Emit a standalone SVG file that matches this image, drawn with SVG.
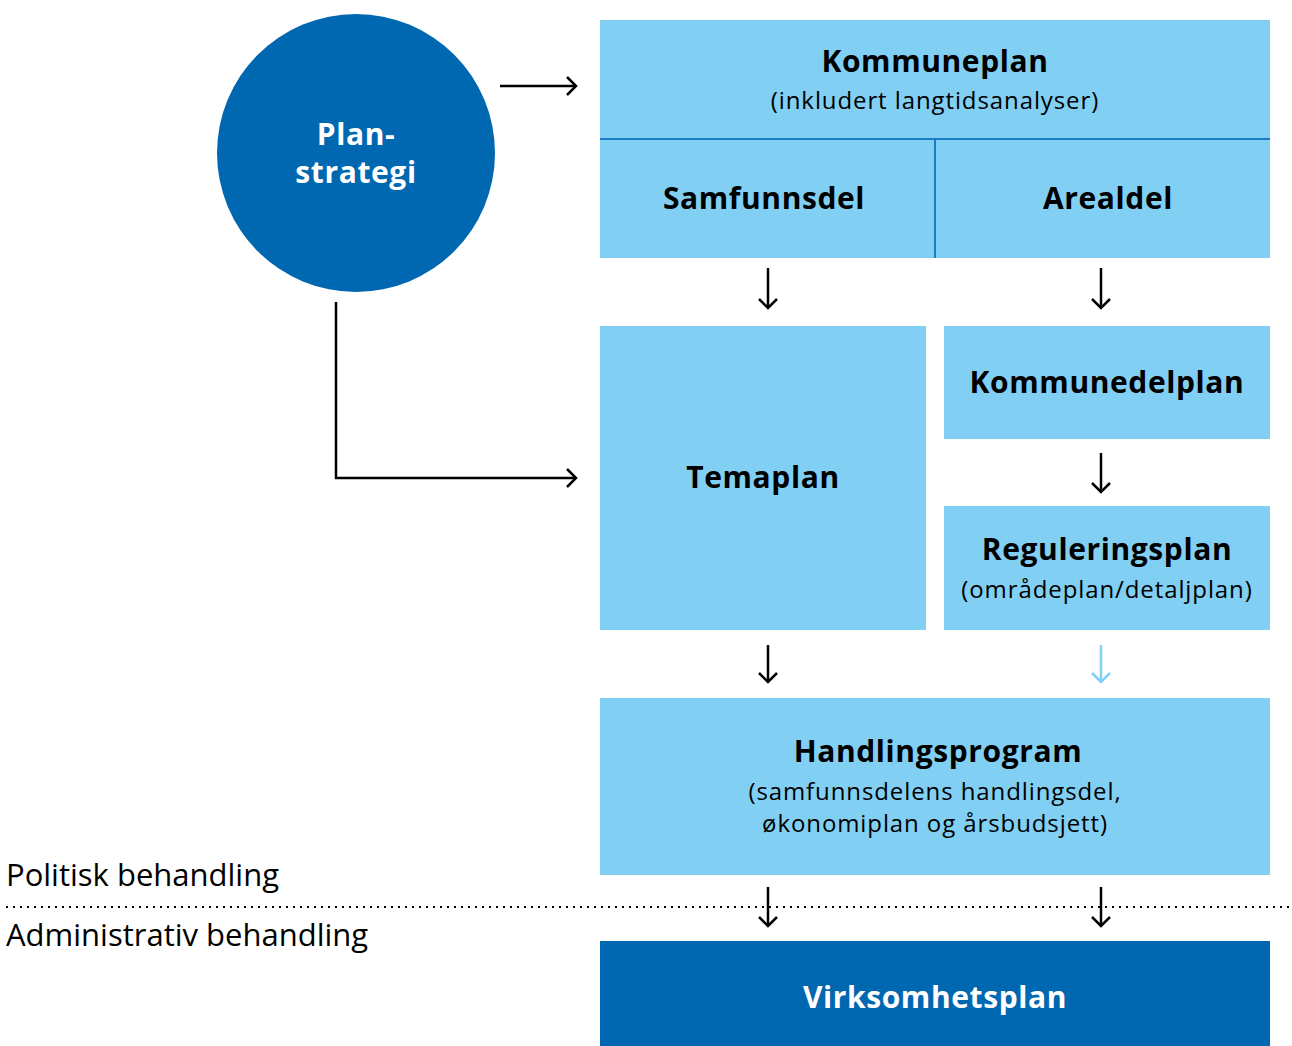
<svg xmlns="http://www.w3.org/2000/svg" width="1292" height="1046" viewBox="0 0 1292 1046">
<style>
.box{fill:#82CFF4}
.dark{fill:#0067B1}
.t{font-family:"Open Sans","Liberation Sans",sans-serif;font-weight:bold;font-size:30px;letter-spacing:0.6px;fill:#000;text-anchor:middle}
.s{font-family:"Open Sans","Liberation Sans",sans-serif;font-size:24px;letter-spacing:0.9px;fill:#000;text-anchor:middle}
.w{fill:#fff}
.lab{font-family:"Open Sans","Liberation Sans",sans-serif;font-size:31px;fill:#000}
.c{fill:none;stroke:#000;stroke-width:2.5}
.div{stroke:#1A7CC4;stroke-width:2}
</style>
<defs>
<marker id="ah" markerUnits="userSpaceOnUse" markerWidth="24" markerHeight="24" refX="12" refY="12" orient="auto" viewBox="0 0 24 24">
<polyline points="3,3 12,12 3,21" fill="none" stroke="#000" stroke-width="2.5"/>
</marker>
<marker id="ahl" markerUnits="userSpaceOnUse" markerWidth="24" markerHeight="24" refX="12" refY="12" orient="auto" viewBox="0 0 24 24">
<polyline points="3,3 12,12 3,21" fill="none" stroke="#82CFF4" stroke-width="2.5"/>
</marker>
</defs>
<g id="planstrategi">
<circle class="dark" cx="356" cy="153" r="139"/>
<text class="t w" x="356" y="145">Plan-</text>
<text class="t w" x="356" y="183">strategi</text>
</g>
<g id="kommuneplan">
<rect class="box" x="600" y="20" width="670" height="238"/>
<line class="div" x1="600" y1="139" x2="1270" y2="139"/>
<line class="div" x1="935" y1="139" x2="935" y2="258"/>
<text class="t" x="935" y="72">Kommuneplan</text>
<text class="s" x="935" y="109">(inkludert langtidsanalyser)</text>
</g>
<g id="samfunnsdel"><text class="t" x="764" y="209">Samfunnsdel</text></g>
<g id="arealdel"><text class="t" x="1108" y="209">Arealdel</text></g>
<g id="temaplan">
<rect class="box" x="600" y="326" width="326" height="304"/>
<text class="t" x="763" y="488">Temaplan</text>
</g>
<g id="kommunedelplan">
<rect class="box" x="944" y="326" width="326" height="113"/>
<text class="t" x="1107" y="393">Kommunedelplan</text>
</g>
<g id="reguleringsplan">
<rect class="box" x="944" y="506" width="326" height="124"/>
<text class="t" x="1107" y="560">Reguleringsplan</text>
<text class="s" x="1107" y="598">(områdeplan/detaljplan)</text>
</g>
<g id="handlingsprogram">
<rect class="box" x="600" y="698" width="670" height="177"/>
<text class="t" x="938" y="762">Handlingsprogram</text>
<text class="s" x="935" y="800">(samfunnsdelens handlingsdel,</text>
<text class="s" x="935" y="832">økonomiplan og årsbudsjett)</text>
</g>
<g id="virksomhetsplan">
<rect class="dark" x="600" y="941" width="670" height="105"/>
<text class="t w" x="935" y="1008">Virksomhetsplan</text>
</g>
<g id="labels">
<text class="lab" x="6" y="886">Politisk behandling</text>
<text class="lab" x="6" y="946">Administrativ behandling</text>
<line x1="6" y1="907" x2="1292" y2="907" stroke="#000" stroke-width="2" stroke-dasharray="2,5"/>
</g>
<g id="connectors">
<line class="c" x1="500" y1="86" x2="576" y2="86" marker-end="url(#ah)"/>
<polyline class="c" points="336,302 336,478 576,478" marker-end="url(#ah)"/>
<line class="c" x1="768" y1="268" x2="768" y2="308" marker-end="url(#ah)"/>
<line class="c" x1="1101" y1="268" x2="1101" y2="308" marker-end="url(#ah)"/>
<line class="c" x1="1101" y1="453" x2="1101" y2="492" marker-end="url(#ah)"/>
<line class="c" x1="768" y1="645" x2="768" y2="682" marker-end="url(#ah)"/>
<line x1="1101" y1="645" x2="1101" y2="682" stroke="#82CFF4" stroke-width="2.5" marker-end="url(#ahl)"/>
<line class="c" x1="768" y1="887" x2="768" y2="926" marker-end="url(#ah)"/>
<line class="c" x1="1101" y1="887" x2="1101" y2="926" marker-end="url(#ah)"/>
</g>
</svg>
